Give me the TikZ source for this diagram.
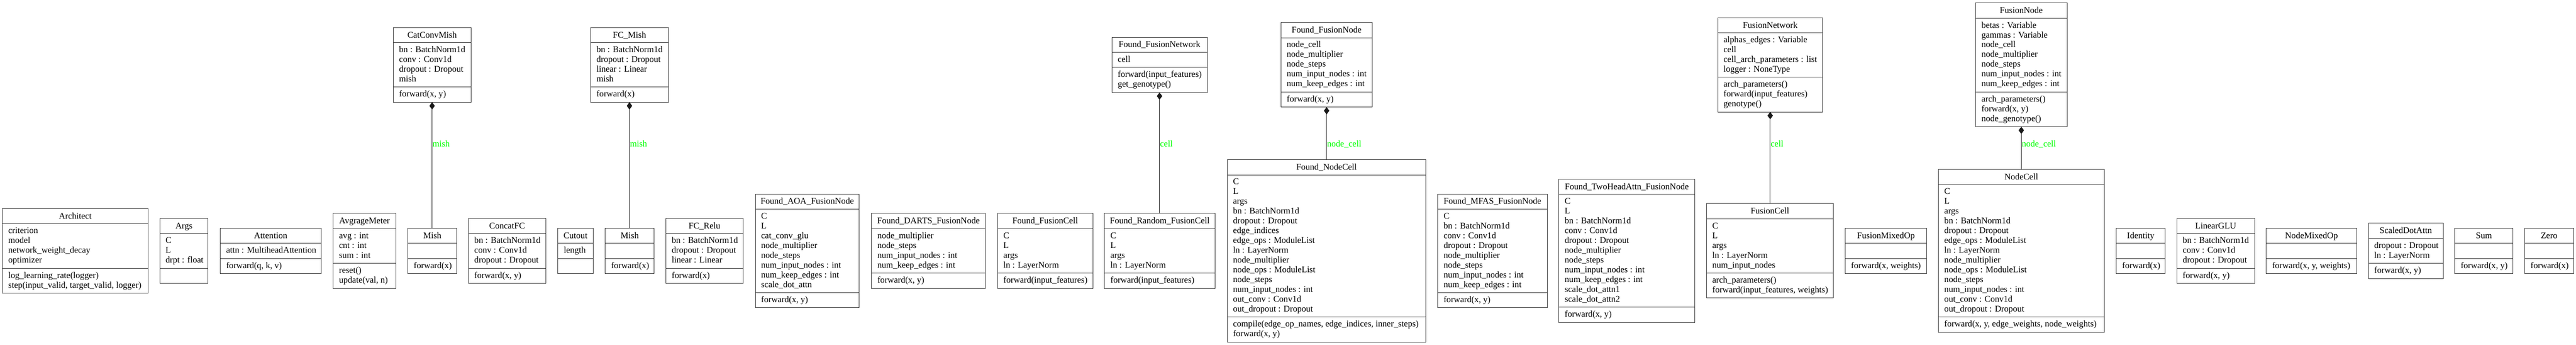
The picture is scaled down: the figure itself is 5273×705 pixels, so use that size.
\documentclass[tikz,border=0pt]{standalone}
\usepackage{fontspec}
\setmainfont{Liberation Serif}
\usetikzlibrary{arrows.meta}
\definecolor{lblgreen}{RGB}{0,255,0}
\tikzset{
  umlbox/.style={draw=black!80, line width=1bp, inner sep=0pt, outer sep=0pt, fill=white},
  umlsep/.style={draw=black!80, line width=1bp},
  umltext/.style={inner sep=0pt, outer sep=0pt, font=\fontsize{18bp}{20bp}\selectfont},
  composition/.style={draw=black!90, line width=1bp, {Diamond[length=15bp,width=11bp]}-},
  edgelabel/.style={inner sep=0pt, outer sep=0pt, text=lblgreen, font=\fontsize{18bp}{20bp}\selectfont, anchor=base west},
}
% #1 name, #2 left, #3 right, #4 centre y, #5 title, #6 attributes, #7 count, #8 methods, #9 count
\newcommand\umlclass[9]{%
  \pgfmathsetmacro\ucHa{20*max(#7,1)+11}%
  \pgfmathsetmacro\ucHm{20*max(#9,1)+11}%
  \pgfmathsetmacro\ucH{31+\ucHa+\ucHm}%
  \pgfmathsetmacro\ucTop{#4-\ucH/2}%
  \pgfmathsetmacro\ucSa{\ucTop+31}%
  \pgfmathsetmacro\ucSm{\ucSa+\ucHa}%
  \pgfmathsetmacro\ucW{#3-#2}%
  \node[umlbox, minimum width=\ucW bp, minimum height=\ucH bp, anchor=north west] (#1) at (#2,\ucTop) {};
  \draw[umlsep] (#2,\ucSa) -- (#3,\ucSa);
  \draw[umlsep] (#2,\ucSm) -- (#3,\ucSm);
  \node[umltext, anchor=base] (#1-t) at ({(#2+#3)/2},\ucTop+21) {#5};
  \ifnum#7>0
    \foreach \tx [count=\i] in {#6} {\node[umltext, anchor=base west] (#1-a\i) at (#2+12,\ucSa+20*\i) {\tx};}
  \fi
  \ifnum#9>0
    \foreach \tx [count=\i] in {#8} {\node[umltext, anchor=base west] (#1-m\i) at (#2+12,\ucSm+20*\i) {\tx};}
  \fi
}
\begin{document}
\begin{tikzpicture}[x=1bp, y=-1bp]
\fill[white] (0,0) rectangle (5273,705);
\useasboundingbox (0,0) rectangle (5273,705);

% bottom row
\umlclass{Architect}{5}{303}{513}{Architect}{criterion,model,network\_weight\_decay,optimizer}{4}{log\_learning\_rate(logger),{step(input\_valid, target\_valid, logger)}}{2}
\umlclass{Args}{327}{426}{513}{Args}{C,L,drpt : float}{3}{}{0}
\umlclass{Attention}{451}{657}{513}{Attention}{attn : MultiheadAttention}{1}{{forward(q, k, v)}}{1}
\umlclass{AvgrageMeter}{682}{810}{513}{AvgrageMeter}{avg : int,cnt : int,sum : int}{3}{reset(),{update(val, n)}}{2}
\umlclass{MishA}{835}{935}{513}{Mish}{}{0}{forward(x)}{1}
\umlclass{ConcatFC}{959}{1117}{513}{ConcatFC}{bn : BatchNorm1d,conv : Conv1d,dropout : Dropout}{3}{{forward(x, y)}}{1}
\umlclass{Cutout}{1142}{1214}{513}{Cutout}{length}{1}{}{0}
\umlclass{MishB}{1239}{1339}{513}{Mish}{}{0}{forward(x)}{1}
\umlclass{FCRelu}{1363}{1521}{513}{FC\_Relu}{bn : BatchNorm1d,dropout : Dropout,linear : Linear}{3}{forward(x)}{1}
\umlclass{FoundAOA}{1546}{1759}{513}{Found\_AOA\_FusionNode}{C,L,cat\_conv\_glu,node\_multiplier,node\_steps,num\_input\_nodes : int,num\_keep\_edges : int,scale\_dot\_attn}{8}{{forward(x, y)}}{1}
\umlclass{FoundDARTS}{1784}{2017}{513}{Found\_DARTS\_FusionNode}{node\_multiplier,node\_steps,num\_input\_nodes : int,num\_keep\_edges : int}{4}{{forward(x, y)}}{1}
\umlclass{FoundFusionCell}{2042}{2237}{513}{Found\_FusionCell}{C,L,args,ln : LayerNorm}{4}{forward(input\_features)}{1}
\umlclass{FoundRandom}{2261}{2487}{513}{Found\_Random\_FusionCell}{C,L,args,ln : LayerNorm}{4}{forward(input\_features)}{1}
\umlclass{FoundNodeCell}{2512}{2919}{513}{Found\_NodeCell}{C,L,args,bn : BatchNorm1d,dropout : Dropout,edge\_indices,edge\_ops : ModuleList,ln : LayerNorm,node\_multiplier,node\_ops : ModuleList,node\_steps,num\_input\_nodes : int,out\_conv : Conv1d,out\_dropout : Dropout}{14}{{compile(edge\_op\_names, edge\_indices, inner\_steps)},{forward(x, y)}}{2}
\umlclass{FoundMFAS}{2943}{3167}{513}{Found\_MFAS\_FusionNode}{C,bn : BatchNorm1d,conv : Conv1d,dropout : Dropout,node\_multiplier,node\_steps,num\_input\_nodes : int,num\_keep\_edges : int}{8}{{forward(x, y)}}{1}
\umlclass{FoundTwoHead}{3191}{3469}{513}{Found\_TwoHeadAttn\_FusionNode}{C,L,bn : BatchNorm1d,conv : Conv1d,dropout : Dropout,node\_multiplier,node\_steps,num\_input\_nodes : int,num\_keep\_edges : int,scale\_dot\_attn1,scale\_dot\_attn2}{11}{{forward(x, y)}}{1}
\umlclass{FusionCell}{3493}{3753}{513}{FusionCell}{C,L,args,ln : LayerNorm,num\_input\_nodes}{5}{arch\_parameters(),{forward(input\_features, weights)}}{2}
\umlclass{FusionMixedOp}{3777}{3944}{513}{FusionMixedOp}{}{0}{{forward(x, weights)}}{1}
\umlclass{NodeCell}{3968}{4307}{513}{NodeCell}{C,L,args,bn : BatchNorm1d,dropout : Dropout,edge\_ops : ModuleList,ln : LayerNorm,node\_multiplier,node\_ops : ModuleList,node\_steps,num\_input\_nodes : int,out\_conv : Conv1d,out\_dropout : Dropout}{13}{{forward(x, y, edge\_weights, node\_weights)}}{1}
\umlclass{Identity}{4332}{4432}{513}{Identity}{}{0}{forward(x)}{1}
\umlclass{LinearGLU}{4456}{4615}{513}{LinearGLU}{bn : BatchNorm1d,conv : Conv1d,dropout : Dropout}{3}{{forward(x, y)}}{1}
\umlclass{NodeMixedOp}{4639}{4824}{513}{NodeMixedOp}{}{0}{{forward(x, y, weights)}}{1}
\umlclass{ScaledDotAttn}{4848}{5001}{513}{ScaledDotAttn}{dropout : Dropout,ln : LayerNorm}{2}{{forward(x, y)}}{1}
\umlclass{Sum}{5025}{5144}{513}{Sum}{}{0}{{forward(x, y)}}{1}
\umlclass{Zero}{5168}{5268}{513}{Zero}{}{0}{forward(x)}{1}

% top row
\umlclass{CatConvMish}{805}{964}{132.5}{CatConvMish}{bn : BatchNorm1d,conv : Conv1d,dropout : Dropout,mish}{4}{{forward(x, y)}}{1}
\umlclass{FCMish}{1209}{1368}{132.5}{FC\_Mish}{bn : BatchNorm1d,dropout : Dropout,linear : Linear,mish}{4}{forward(x)}{1}
\umlclass{FoundFusionNetwork}{2276}{2471}{132.5}{Found\_FusionNetwork}{cell}{1}{forward(input\_features),get\_genotype()}{2}
\umlclass{FoundFusionNode}{2622}{2809}{132.5}{Found\_FusionNode}{node\_cell,node\_multiplier,node\_steps,num\_input\_nodes : int,num\_keep\_edges : int}{5}{{forward(x, y)}}{1}
\umlclass{FusionNetwork}{3516}{3731}{132.5}{FusionNetwork}{alphas\_edges : Variable,cell,cell\_arch\_parameters : list,logger : NoneType}{4}{arch\_parameters(),forward(input\_features),genotype()}{3}
\umlclass{FusionNode}{4044}{4231}{132.5}{FusionNode}{betas : Variable,gammas : Variable,node\_cell,node\_multiplier,node\_steps,num\_input\_nodes : int,num\_keep\_edges : int}{7}{arch\_parameters(),{forward(x, y)},node\_genotype()}{3}

% composition connectors
\draw[composition] (CatConvMish.south) -- (CatConvMish.south |- MishA.north);
\draw[composition] (FCMish.south) -- (FCMish.south |- MishB.north);
\draw[composition] (FoundFusionNetwork.south) -- (FoundFusionNetwork.south |- FoundRandom.north);
\draw[composition] (FoundFusionNode.south) -- (FoundFusionNode.south |- FoundNodeCell.north);
\draw[composition] (FusionNetwork.south) -- (FusionNetwork.south |- FusionCell.north);
\draw[composition] (FusionNode.south) -- (FusionNode.south |- NodeCell.north);

% connector labels
\node[edgelabel, xshift=1bp] (lblMishA) at (CatConvMish.south |- 0,300) {mish};
\node[edgelabel, xshift=1bp] (lblMishB) at (FCMish.south |- 0,300) {mish};
\node[edgelabel, xshift=1bp] (lblCellA) at (FoundFusionNetwork.south |- 0,300) {cell};
\node[edgelabel, xshift=1bp] (lblNodeCellA) at (FoundFusionNode.south |- 0,300) {node\_cell};
\node[edgelabel, xshift=1bp] (lblCellB) at (FusionNetwork.south |- 0,300) {cell};
\node[edgelabel, xshift=1bp] (lblNodeCellB) at (FusionNode.south |- 0,300) {node\_cell};
\end{tikzpicture}
\end{document}
